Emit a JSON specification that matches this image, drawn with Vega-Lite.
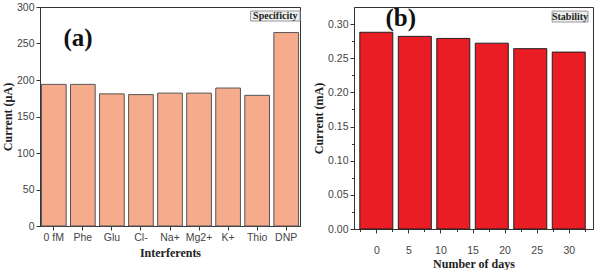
{
  "$schema": "https://vega.github.io/schema/vega-lite/v6.json",
  "padding": {"left": 0, "top": 1, "right": 2, "bottom": 0},
  "background": "white",
  "spacing": 11,
  "config": {
    "view": {"stroke": "#333", "strokeWidth": 1},
    "axis": {
      "grid": false,
      "labelFont": "Liberation Sans",
      "labelFontSize": 10.5,
      "labelColor": "#444",
      "titleFont": "Liberation Serif",
      "titleFontSize": 12,
      "titleFontWeight": "bold",
      "titleColor": "#222",
      "domainColor": "#333",
      "tickColor": "#333",
      "tickSize": 4
    }
  },
  "hconcat": [
    {
      "width": 260,
      "height": 219,
      "resolve": {"scale": {"x": "independent"}, "axis": {"x": "independent", "y": "independent"}},
      "layer": [
        {
          "data": {"values": [
            {"interferent": "0 fM", "current": 194},
            {"interferent": "Phe", "current": 194},
            {"interferent": "Glu", "current": 181},
            {"interferent": "Cl-", "current": 180},
            {"interferent": "Na+", "current": 182},
            {"interferent": "Mg2+", "current": 182},
            {"interferent": "K+", "current": 189},
            {"interferent": "Thio", "current": 179},
            {"interferent": "DNP", "current": 265}
          ]},
          "mark": {"type": "bar", "fill": "#F6AC8C", "stroke": "#555", "strokeWidth": 1},
          "encoding": {
            "x": {"field": "interferent", "type": "nominal", "sort": null,
                  "scale": {"paddingInner": 0.15, "paddingOuter": 0.05},
                  "axis": {"title": "Interferents", "labelAngle": 0, "labelPadding": 2, "titlePadding": 5}},
            "y": {"field": "current", "type": "quantitative",
                  "scale": {"domain": [0, 300], "nice": false},
                  "axis": {"title": "Current (µA)", "values": [0, 50, 100, 150, 200, 250, 300], "labelPadding": 2, "titlePadding": 2}}
          }
        },
        {
          "data": {"values": [{}]},
          "layer": [
            {
              "mark": {"type": "rect", "fill": "#EEEEEE", "stroke": "#999", "strokeWidth": 1},
              "encoding": {
                "x": {"datum": 0.81, "type": "quantitative", "scale": {"domain": [0, 1], "nice": false}, "axis": null},
                "x2": {"datum": 1},
                "y": {"datum": 294.5, "type": "quantitative",
                      "axis": {"orient": "left", "values": [25, 75, 125, 175, 225, 275], "labels": false, "title": null, "domain": false, "tickSize": 2.5}},
                "y2": {"datum": 280.8}
              }
            },
            {
              "mark": {"type": "text", "font": "Liberation Serif", "fontWeight": "bold", "fontSize": 10, "color": "#222", "baseline": "middle"},
              "encoding": {
                "x": {"datum": 0.905, "type": "quantitative", "axis": null},
                "y": {"datum": 287.6, "type": "quantitative", "axis": null},
                "text": {"value": "Specificity"}
              }
            },
            {
              "mark": {"type": "text", "font": "Liberation Serif", "fontWeight": "bold", "fontSize": 25, "color": "#111", "baseline": "middle"},
              "encoding": {
                "x": {"datum": 0.146, "type": "quantitative", "axis": null},
                "y": {"datum": 257, "type": "quantitative", "axis": null},
                "text": {"value": "(a)"}
              }
            }
          ]
        }
      ]
    },
    {
      "width": 239,
      "height": 222,
      "resolve": {"axis": {"x": "independent", "y": "independent"}},
      "layer": [
        {
          "data": {"values": [
            {"day": 0, "current": 0.288},
            {"day": 6, "current": 0.282},
            {"day": 12, "current": 0.279},
            {"day": 18, "current": 0.272},
            {"day": 24, "current": 0.264},
            {"day": 30, "current": 0.259}
          ]},
          "mark": {"type": "bar", "fill": "#EA1C24", "stroke": "#222", "strokeWidth": 1, "size": 33},
          "encoding": {
            "x": {"field": "day", "type": "quantitative",
                  "scale": {"domain": [-2.7, 33], "nice": false, "zero": false},
                  "axis": {"title": "Number of days", "values": [0, 5, 10, 15, 20, 25, 30], "labelPadding": 12, "titlePadding": 3}},
            "y": {"field": "current", "type": "quantitative",
                  "scale": {"domain": [0, 0.325], "nice": false},
                  "axis": {"title": "Current (mA)", "values": [0, 0.05, 0.1, 0.15, 0.2, 0.25, 0.3], "format": ".2f", "labelPadding": 2, "titlePadding": 2}}
          }
        },
        {
          "data": {"values": [{}]},
          "mark": {"type": "rect", "fill": "#EEEEEE", "stroke": "#999", "strokeWidth": 1},
          "encoding": {
            "x": {"datum": 27.4, "type": "quantitative",
                  "axis": {"orient": "bottom", "values": [-2.5, 2.5, 7.5, 12.5, 17.5, 22.5, 27.5, 32.5], "labels": false, "title": null, "domain": false, "tickSize": 2.5}},
            "x2": {"datum": 33},
            "y": {"datum": 0.319, "type": "quantitative",
                  "axis": {"orient": "left", "values": [0.025, 0.075, 0.125, 0.175, 0.225, 0.275], "labels": false, "title": null, "domain": false, "tickSize": 2.5}},
            "y2": {"datum": 0.303}
          }
        },
        {
          "data": {"values": [{}]},
          "mark": {"type": "text", "font": "Liberation Serif", "fontWeight": "bold", "fontSize": 10, "color": "#222", "baseline": "middle"},
          "encoding": {
            "x": {"datum": 30.2, "type": "quantitative", "axis": null},
            "y": {"datum": 0.311, "type": "quantitative", "axis": null},
            "text": {"value": "Stability"}
          }
        },
        {
          "data": {"values": [{}]},
          "mark": {"type": "text", "font": "Liberation Serif", "fontWeight": "bold", "fontSize": 25, "color": "#111", "baseline": "middle"},
          "encoding": {
            "x": {"datum": 3.8, "type": "quantitative", "axis": null},
            "y": {"datum": 0.309, "type": "quantitative", "axis": null},
            "text": {"value": "(b)"}
          }
        }
      ]
    }
  ]
}
